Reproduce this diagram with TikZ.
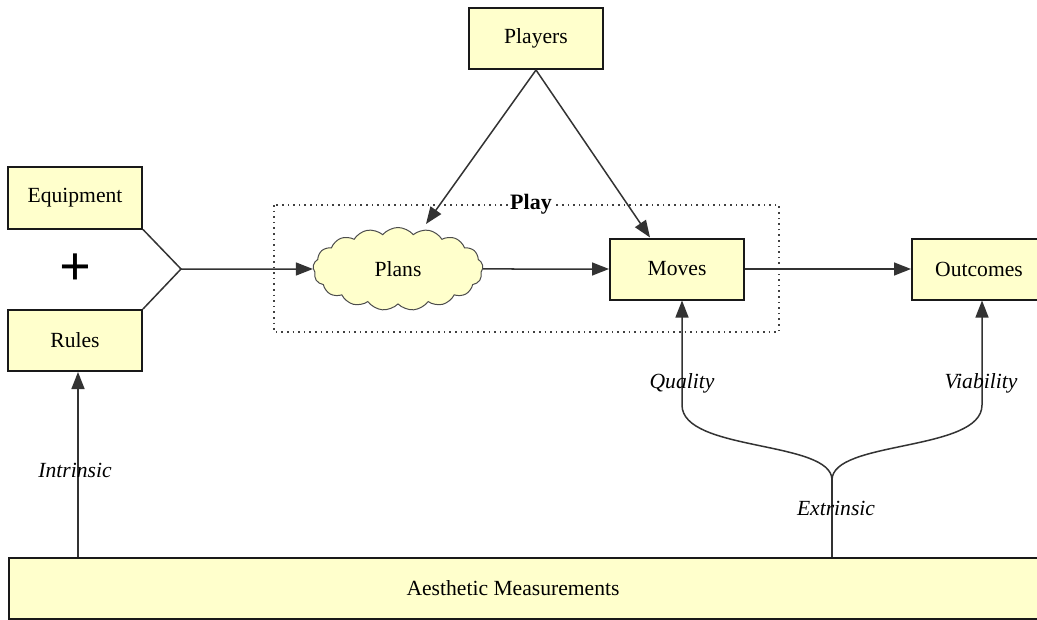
\documentclass[tikz,border=0pt]{standalone}
\usepackage{fontspec}
\setmainfont{Liberation Serif}
\usetikzlibrary{shapes.symbols, arrows.meta}
\definecolor{boxfill}{HTML}{FFFFCC}
\definecolor{linegray}{HTML}{333333}
\tikzstyle{every node}=[font=\fontsize{10.8}{13}\selectfont]
\tikzstyle{box}=[draw=black!90, line width=1pt, fill=boxfill, minimum width=67pt, minimum height=30.5pt]
\tikzstyle{plan}=[cloud, cloud puffs=17, cloud puff arc=100, aspect=2.2, draw=black!70, line width=0.5pt, fill=boxfill, minimum width=85pt, minimum height=41.5pt]
\tikzstyle{arr}=[-{Triangle[length=8.5pt, width=6.5pt]}, linegray, line width=0.75pt]
\tikzstyle{lab}=[font=\fontsize{10.8}{13}\selectfont\itshape]

\begin{document}
\begin{tikzpicture}[x=0.5pt, y=-0.5pt]
    \useasboundingbox (0,0) rectangle (1037,620);
% Boxes
    \node[box] (players) at (536,38.5) {Players};
    \node[box] (equip) at (75,198) {Equipment};
    \node[box] (rules) at (75,340.5) {Rules};
    \node[box] (moves) at (677,269) {Moves};
    \node[box] (outcomes) at (979,269) {Outcomes};
    \node[plan] (plans) at (398,269) {Plans};
    \node[box, anchor=north west, minimum width=530pt, minimum height=30.5pt] (aes) at (8,557) {};
    \node (aestext) at (513,588) {Aesthetic Measurements};
    \node (plus) at (75,270) {\fontsize{28}{28}\selectfont\textbf{+}};
% Play frame
    \draw[dotted, black!75, line width=0.8pt] (274,205) rectangle (779,332);
    \node[fill=white, inner sep=1pt, font=\fontsize{11}{13}\selectfont\bfseries] (play) at (531,204) {Play};
% Connectors
    \coordinate (join) at (181,269);
    \draw[linegray, line width=0.75pt] (equip.south east) -- (join) -- (rules.north east);
    \draw[arr] (join) -- (plans.west);
    \draw[arr] (plans.east) -- (moves.west);
    \draw[arr] (moves.east) -- (outcomes.west);
    \draw[arr] (players.south) -- (426,224);
    \draw[arr] (players.south) -- ([xshift=-13.5pt]moves.north);
% Measurements
    \coordinate (fork) at (832,480);
    \draw[arr] (aes.north -| 78,0) -- ([xshift=1.5pt]rules.south);
    \draw[linegray, line width=0.75pt] (aes.north -| fork) -- (fork);
    \draw[arr] (fork) .. controls (832,440) and (682,452) .. (682,405) -- ([xshift=2.5pt]moves.south);
    \draw[arr] (fork) .. controls (832,440) and (982,452) .. (982,405) -- ([xshift=1.5pt]outcomes.south);
    \node[lab] (intrinsic) at (75,470) {Intrinsic};
    \node[lab] (quality) at (682,383) {Quality};
    \node[lab] (viability) at (981,383) {Viability};
    \node[lab] (extrinsic) at (836,508) {Extrinsic};
\end{tikzpicture}
\end{document}
